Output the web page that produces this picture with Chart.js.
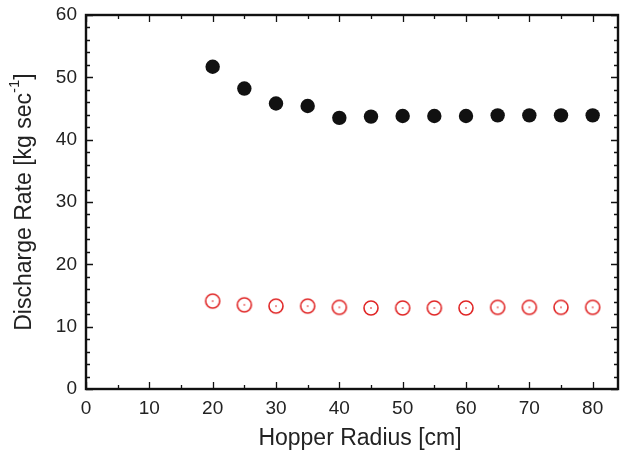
<!DOCTYPE html>
<html>
<head>
<meta charset="utf-8">
<script src="https://cdn.jsdelivr.net/npm/chart.js@4"></script>
<style>
  html, body { margin: 0; padding: 0; background: #fff; }
  #wrap { width: 620px; height: 453px; }
</style>
</head>
<body>
<div id="wrap"><canvas id="chart"></canvas></div>
<script>
// data
const radius = [20, 25, 30, 35, 40, 45, 50, 55, 60, 65, 70, 75, 80];
const rateFilled = [51.7, 48.2, 45.8, 45.4, 43.5, 43.7, 43.8, 43.8, 43.8, 43.9, 43.9, 43.9, 43.9];
const rateOpen = [14.1, 13.5, 13.3, 13.3, 13.1, 13.0, 13.0, 13.0, 13.0, 13.1, 13.1, 13.1, 13.1];

const xTicks = [0, 10, 20, 30, 40, 50, 60, 70, 80];
const yTicks = [0, 10, 20, 30, 40, 50, 60];

const FONT = '"Liberation Sans", Arial, sans-serif';
const RED = '#e02626';

// open red circle with a tiny dash in the middle
function openMarker() {
    const c = document.createElement('canvas');
    c.width = 18; c.height = 18;
    const g = c.getContext('2d');
    g.strokeStyle = RED;
    g.lineWidth = 1.6;
    g.beginPath();
    g.arc(9, 9, 7, 0, Math.PI * 2);
    g.stroke();
    g.fillStyle = RED;
    g.fillRect(8, 8.5, 2, 1);
    return c;
}

// frame with inward ticks on all four sides, and the axis titles
const framePlugin = {
    id: 'frame',
    afterDraw(chart) {
        const ctx = chart.ctx;
        const a = chart.chartArea;
        const xs = chart.scales.x, ys = chart.scales.y;
        ctx.save();
        ctx.strokeStyle = '#111';
        ctx.lineWidth = 2.4;
        ctx.strokeRect(a.left, a.top, a.right - a.left, a.bottom - a.top);

        ctx.lineWidth = 1.3;
        ctx.beginPath();
        for (let v = 0; v <= 84; v += 5) {
            const px = Math.round(xs.getPixelForValue(v)) + 0.5;
            const len = v % 10 === 0 ? 7 : 4;
            ctx.moveTo(px, a.bottom); ctx.lineTo(px, a.bottom - len);
            ctx.moveTo(px, a.top); ctx.lineTo(px, a.top + len);
        }
        for (let v = 0; v <= 60; v += 2) {
            const py = Math.round(ys.getPixelForValue(v)) + 0.5;
            const len = v % 10 === 0 ? 7 : 4;
            ctx.moveTo(a.left, py); ctx.lineTo(a.left + len, py);
            ctx.moveTo(a.right, py); ctx.lineTo(a.right - len, py);
        }
        ctx.stroke();

        // x title
        ctx.fillStyle = '#222';
        ctx.font = '23px ' + FONT;
        ctx.textAlign = 'center';
        ctx.textBaseline = 'middle';
        ctx.fillText('Hopper Radius [cm]', 360, 439);

        // y title with superscript
        ctx.translate(25, (a.top + a.bottom) / 2);
        ctx.rotate(-Math.PI / 2);
        const main = 'Discharge Rate [kg sec';
        const sup = '-1';
        const end = ']';
        ctx.font = '23px ' + FONT;
        const wMain = ctx.measureText(main).width;
        const wEnd = ctx.measureText(end).width;
        ctx.font = '15px ' + FONT;
        const wSup = ctx.measureText(sup).width;
        let x0 = -(wMain + wSup + wEnd) / 2;
        ctx.textAlign = 'left';
        ctx.font = '23px ' + FONT;
        ctx.fillText(main, x0, 0);
        ctx.font = '15px ' + FONT;
        ctx.fillText(sup, x0 + wMain, -10);
        ctx.font = '23px ' + FONT;
        ctx.fillText(end, x0 + wMain + wSup, 0);
        ctx.restore();
    }
};

new Chart(document.getElementById('chart'), {
    type: 'scatter',
    data: {
        datasets: [
            {
                label: 'filled',
                data: radius.map((r, i) => ({ x: r, y: rateFilled[i] })),
                pointStyle: 'circle',
                pointRadius: 7.2,
                backgroundColor: '#111',
                borderColor: '#111',
                borderWidth: 0
            },
            {
                label: 'open',
                data: radius.map((r, i) => ({ x: r, y: rateOpen[i] })),
                pointStyle: openMarker(),
                pointRadius: 7
            }
        ]
    },
    options: {
        responsive: true,
        maintainAspectRatio: false,
        animation: false,
        layout: { autoPadding: false, padding: { top: 15, right: 2, left: 0, bottom: 0 } },
        plugins: {
            legend: { display: false },
            tooltip: { enabled: false }
        },
        scales: {
            x: {
                type: 'linear',
                min: 0,
                max: 84,
                afterBuildTicks: s => { s.ticks = xTicks.map(v => ({ value: v })); },
                afterFit: s => { s.height = 64; s.paddingLeft = 0; s.paddingRight = 0; },
                grid: { display: false },
                border: { display: false },
                ticks: {
                    color: '#222',
                    font: { family: FONT, size: 19 },
                    padding: 0,
                    maxRotation: 0
                }
            },
            y: {
                type: 'linear',
                min: 0,
                max: 60,
                afterBuildTicks: s => { s.ticks = yTicks.map(v => ({ value: v })); },
                afterFit: s => { s.width = 86; s.paddingTop = 0; s.paddingBottom = 0; },
                grid: { display: false },
                border: { display: false },
                ticks: {
                    color: '#222',
                    font: { family: FONT, size: 19 },
                    padding: 1
                }
            }
        }
    },
    plugins: [framePlugin]
});
</script>
</body>
</html>
